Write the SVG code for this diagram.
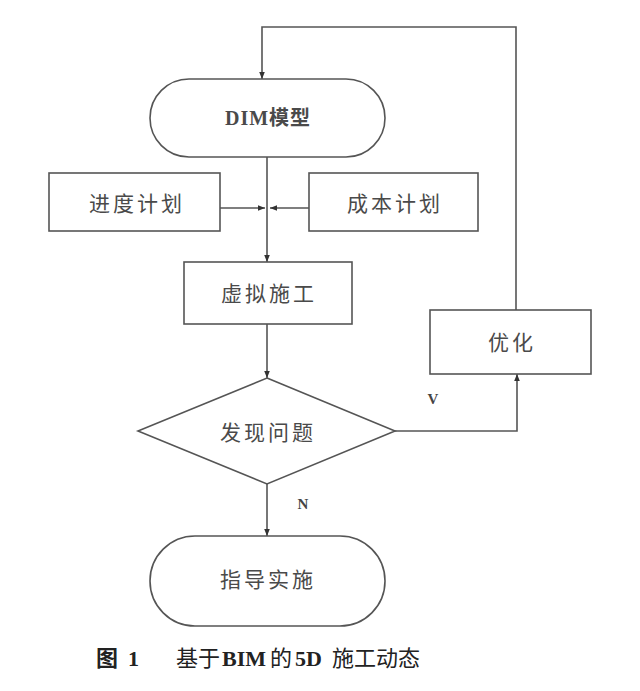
<svg xmlns="http://www.w3.org/2000/svg" width="640" height="691" viewBox="0 0 640 691">
<style>
.s{fill:#fff;stroke:#555;stroke-width:1.6}
.t{font-family:"Liberation Serif","Noto Sans CJK SC",serif;font-size:21px;fill:#4a4a4a;text-anchor:middle;dominant-baseline:central;letter-spacing:3px}
.c{fill:none;stroke:#555;stroke-width:1.6}
.l{font-family:"Liberation Serif",serif;font-size:15px;font-weight:bold;fill:#444;text-anchor:middle;dominant-baseline:central}
.cap{font-family:"Liberation Serif","Noto Sans CJK SC",serif;font-size:22px;fill:#222}
</style>
<defs>
<marker id="a" viewBox="0 0 10 10" refX="10" refY="5" markerWidth="7" markerHeight="7" orient="auto" markerUnits="userSpaceOnUse">
<path d="M0,1 L10,5 L0,9 z" fill="#333"/>
</marker>
</defs>
<rect width="640" height="691" fill="#fff"/>
<g id="connectors">
<path class="c" d="M516,310 V27 H262 V79" marker-end="url(#a)"/>
<path class="c" d="M267,157 V262" marker-end="url(#a)"/>
<path class="c" d="M220,208 H265" marker-end="url(#a)"/>
<path class="c" d="M309,208 H270" marker-end="url(#a)"/>
<path class="c" d="M267,324 V378" marker-end="url(#a)"/>
<path class="c" d="M395,431 H517 V374" marker-end="url(#a)"/>
<path class="c" d="M267,484 V536" marker-end="url(#a)"/>
<text class="l" x="433" y="399">V</text>
<text class="l" x="303" y="504">N</text>
</g>
<g id="bim">
<rect class="s" x="150" y="79" width="235" height="78" rx="39"/>
<text class="t" x="268" y="118" style="font-size:20px;letter-spacing:1px;font-weight:bold">DIM模型</text>
</g>
<g id="schedule">
<rect class="s" x="49" y="173" width="171" height="58"/>
<text class="t" x="137" y="204">进度计划</text>
</g>
<g id="cost">
<rect class="s" x="309" y="173" width="169" height="58"/>
<text class="t" x="395" y="204">成本计划</text>
</g>
<g id="virtual">
<rect class="s" x="184" y="262" width="168" height="62"/>
<text class="t" x="269" y="294">虚拟施工</text>
</g>
<g id="optimize">
<rect class="s" x="430" y="310" width="161" height="64"/>
<text class="t" x="512" y="343">优化</text>
</g>
<g id="problem">
<polygon class="s" points="267,378 395,431 267,484 138,431"/>
<text class="t" x="268" y="433">发现问题</text>
</g>
<g id="guide">
<rect class="s" x="150" y="536" width="235" height="90" rx="45"/>
<text class="t" x="268" y="580">指导实施</text>
</g>
<text class="cap" y="666"><tspan x="96" font-weight="bold">图</tspan><tspan x="128" font-weight="bold">1</tspan><tspan x="176">基于</tspan><tspan x="222" font-weight="bold">BIM</tspan><tspan x="270">的</tspan><tspan x="295" font-weight="bold">5D</tspan><tspan x="332">施工动态</tspan></text>
</svg>
